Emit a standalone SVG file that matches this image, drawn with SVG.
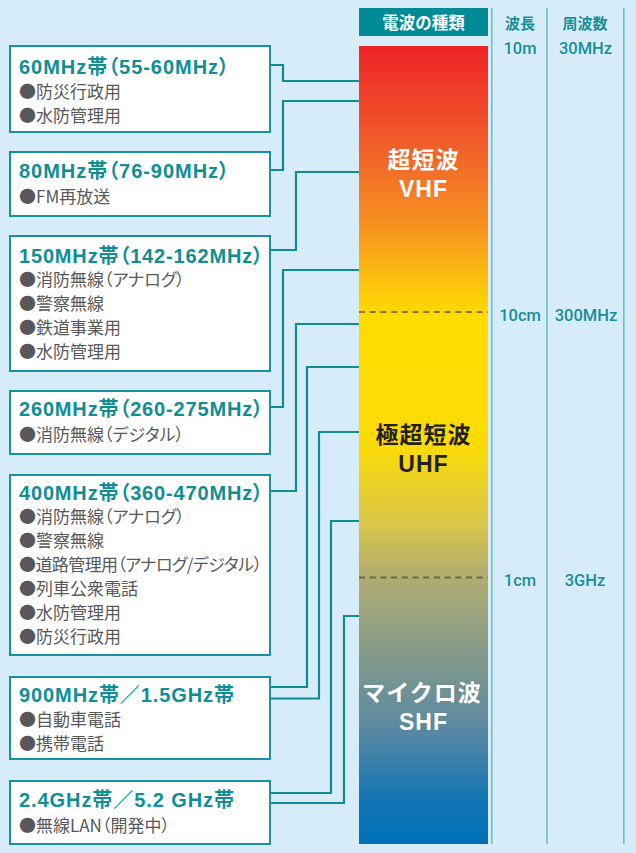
<svg xmlns="http://www.w3.org/2000/svg" width="636" height="853" viewBox="0 0 636 853">
<defs>
<linearGradient id="band" x1="0" y1="46" x2="0" y2="844" gradientUnits="userSpaceOnUse">
<stop offset="0" stop-color="#ee2327"/>
<stop offset="0.13" stop-color="#f1612a"/>
<stop offset="0.23" stop-color="#f7951f"/>
<stop offset="0.30" stop-color="#fcc50d"/>
<stop offset="0.34" stop-color="#ffdc00"/>
<stop offset="0.50" stop-color="#fbdb05"/>
<stop offset="0.60" stop-color="#d9c54a"/>
<stop offset="0.665" stop-color="#b1ad72"/>
<stop offset="0.76" stop-color="#849a8a"/>
<stop offset="0.85" stop-color="#5e8aa0"/>
<stop offset="0.95" stop-color="#0f74b5"/>
<stop offset="1" stop-color="#0071b8"/>
</linearGradient>
<style>
.box{fill:#ffffff;stroke:#17939d;stroke-width:2}
.title{font-family:"Liberation Sans","Noto Sans CJK JP",sans-serif;font-weight:bold;font-size:20px;fill:#0f8e96;font-feature-settings:"palt"}
.item{font-family:"Noto Sans CJK JP",sans-serif;font-size:17px;fill:#58585a;font-feature-settings:"palt"}
.conn{fill:none;stroke:#118b96;stroke-width:2.2}
.col{font-family:Roboto,"Liberation Sans",sans-serif;font-weight:500;font-size:16.5px;fill:#1a8e98;text-anchor:middle}
.colh{font-family:"Noto Sans CJK JP",sans-serif;font-weight:bold;font-size:15px;fill:#1a8e98;text-anchor:middle}
.sep{stroke:#6cbfcc;stroke-width:1.6}
.dash{stroke:#4a4430;stroke-opacity:0.65;stroke-width:2;stroke-dasharray:6 4.7}
.lab{font-family:"Liberation Sans","Noto Sans CJK JP",sans-serif;font-weight:bold;font-size:23px;text-anchor:middle;letter-spacing:1px}
</style>
</defs>
<rect x="0" y="0" width="636" height="853" fill="#d6edf9"/>

<g id="header">
<rect x="359" y="8" width="129" height="28" fill="#008b97"/>
<text x="423.5" y="29" font-family="Noto Sans CJK JP,sans-serif" font-weight="bold" font-size="16.5" fill="#ffffff" text-anchor="middle">電波の種類</text>
</g>

<g id="columns">
<line class="sep" x1="491.8" y1="8" x2="491.8" y2="844"/>
<line class="sep" x1="547" y1="8" x2="547" y2="844"/>
<line class="sep" x1="623.8" y1="8" x2="623.8" y2="844"/>
<text class="colh" x="520" y="29">波長</text>
<text class="colh" x="585" y="29">周波数</text>
<text class="col" x="520" y="54">10m</text>
<text class="col" x="585.5" y="54">30MHz</text>
<text class="col" x="520" y="321">10cm</text>
<text class="col" x="586" y="321">300MHz</text>
<text class="col" x="520" y="586">1cm</text>
<text class="col" x="585" y="586">3GHz</text>
</g>

<g id="bar">
<rect x="359" y="46" width="129" height="798" fill="url(#band)"/>
<line class="dash" x1="359" y1="312" x2="488" y2="312"/>
<line class="dash" x1="359" y1="577.5" x2="488" y2="577.5"/>
<text class="lab" x="423.5" y="168" fill="#ffffff">超短波</text>
<text class="lab" x="423.5" y="197" fill="#ffffff">VHF</text>
<text class="lab" x="423.5" y="443" fill="#231f20">極超短波</text>
<text class="lab" x="423.5" y="472" fill="#231f20">UHF</text>
<text class="lab" x="422" y="701" fill="#ffffff">マイクロ波</text>
<text class="lab" x="423.5" y="730" fill="#ffffff">SHF</text>
</g>

<g id="connectors">
<polyline class="conn" points="270,65 283,65 283,81 359,81"/>
<polyline class="conn" points="270,170 283,170 283,101 359,101"/>
<polyline class="conn" points="270,250 296,250 296,172 359,172"/>
<polyline class="conn" points="270,407 283,407 283,270 359,270"/>
<polyline class="conn" points="270,491 296,491 296,324 359,324"/>
<polyline class="conn" points="270,687 307,687 307,367 359,367"/>
<polyline class="conn" points="270,698.5 319,698.5 319,432 359,432"/>
<polyline class="conn" points="270,793 331,793 331,521 359,521"/>
<polyline class="conn" points="270,803 344,803 344,616 359,616"/>
</g>

<g id="band60">
<rect class="box" x="10" y="46" width="260" height="86"/>
<text class="title" x="19" y="74" textLength="210">60MHz帯（55-60MHz）</text>
<text class="item" x="19" y="98">●防災行政用</text>
<text class="item" x="19" y="122">●水防管理用</text>
</g>

<g id="band80">
<rect class="box" x="10" y="152" width="260" height="64"/>
<text class="title" x="19" y="178" textLength="210">80MHz帯（76-90MHz）</text>
<text class="item" x="19" y="203">●FM再放送</text>
</g>

<g id="band150">
<rect class="box" x="10" y="236" width="260" height="135"/>
<text class="title" x="19" y="262.5" textLength="244">150MHz帯（142-162MHz）</text>
<text class="item" x="19" y="286">●消防無線（アナログ）</text>
<text class="item" x="19" y="310">●警察無線</text>
<text class="item" x="19" y="334">●鉄道事業用</text>
<text class="item" x="19" y="358">●水防管理用</text>
</g>

<g id="band260">
<rect class="box" x="10" y="391" width="260" height="63"/>
<text class="title" x="19" y="416" textLength="244">260MHz帯（260-275MHz）</text>
<text class="item" x="19" y="441">●消防無線（デジタル）</text>
</g>

<g id="band400">
<rect class="box" x="10" y="475" width="260" height="180"/>
<text class="title" x="19" y="499.5" textLength="244">400MHz帯（360-470MHz）</text>
<text class="item" x="19" y="523">●消防無線（アナログ）</text>
<text class="item" x="19" y="547">●警察無線</text>
<text class="item" x="19" y="571" textLength="243">●道路管理用（アナログ/デジタル）</text>
<text class="item" x="19" y="595">●列車公衆電話</text>
<text class="item" x="19" y="619">●水防管理用</text>
<text class="item" x="19" y="643">●防災行政用</text>
</g>

<g id="band900">
<rect class="box" x="10" y="677" width="260" height="82"/>
<text class="title" x="19" y="702" textLength="215">900MHz帯／1.5GHz帯</text>
<text class="item" x="19" y="726">●自動車電話</text>
<text class="item" x="19" y="750">●携帯電話</text>
</g>

<g id="band24">
<rect class="box" x="10" y="781" width="260" height="63"/>
<text class="title" x="19" y="807" textLength="215">2.4GHz帯／5.2 GHz帯</text>
<text class="item" x="19" y="832">●無線LAN（開発中）</text>
</g>
</svg>
